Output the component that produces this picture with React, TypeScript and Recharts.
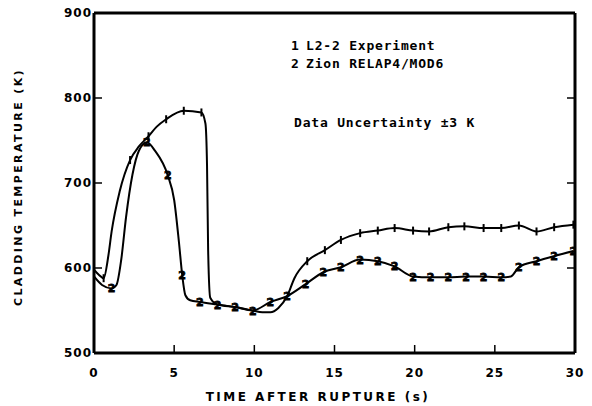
import { ComposedChart, Line, XAxis, YAxis, Customized } from 'recharts';

// time after rupture (s) and cladding temperature (K)
const timeTicks = [0, 5, 10, 15, 20, 25, 30];
const innerTimeTicks = [5, 10, 15, 20, 25];
const tempTicks = [500, 600, 700, 800, 900];
const innerTempTicks = [600, 700, 800];

// curve 1: L2-2 Experiment
const expTime = [0, 0.3, 0.6, 0.9, 1.1, 1.6, 2.25, 2.8, 3.4, 3.9, 4.5, 5.6, 6.7, 6.95, 7.05, 7.12, 7.25, 7.7, 8.8, 9.9, 10.5, 11, 11.5, 12.05, 12.5, 13.3, 14.4, 15.4, 16.6, 17.7, 18.75, 19.9, 20.9, 22.1, 23.1, 24.3, 25.4, 26.5, 27.6, 28.7, 29.9];
const expTemp = [598, 592, 588, 615, 643, 690, 727, 743, 755, 766, 775, 785, 783, 770, 720, 620, 565, 557, 554, 550, 548, 548, 553, 567, 588, 608, 621, 633, 641, 644, 647, 644, 643, 648, 649, 647, 647, 650, 643, 648, 651];
const expMarks = [0.6, 2.25, 3.4, 4.5, 5.6, 6.7, 13.3, 14.4, 15.4, 16.6, 17.7, 18.75, 19.9, 20.9, 22.1, 23.1, 24.3, 25.4, 26.5, 27.6, 28.7, 29.9];

// curve 2: Zion RELAP4/MOD6
const calcTime = [0, 0.5, 1.1, 1.4, 1.7, 2.0, 2.4, 2.8, 3.3, 3.8, 4.6, 5.0, 5.3, 5.5, 5.7, 6.0, 6.6, 7.7, 8.8, 9.9, 11, 12.05, 13.2, 14.3, 15.4, 16.6, 17.7, 18.75, 19.9, 21, 22.1, 23.2, 24.3, 25.4, 26, 26.5, 27.6, 28.7, 29.9];
const calcTemp = [590, 580, 576, 580, 610, 660, 710, 738, 748, 738, 709, 680, 630, 592, 568, 562, 560, 557, 554, 550, 560, 567, 581, 595, 601, 610, 608, 602, 590, 589, 589, 590, 590, 589, 590, 601, 608, 614, 620];
const calcMarks = [1.1, 3.3, 4.6, 5.5, 6.6, 7.7, 8.8, 9.9, 11, 12.05, 13.2, 14.3, 15.4, 16.6, 17.7, 18.75, 19.9, 21, 22.1, 23.2, 24.3, 25.4, 26.5, 27.6, 28.7, 29.9];

const expData = expTime.map((t, i) => ({ t, T: expTemp[i] }));
const calcData = calcTime.map((t, i) => ({ t, T: calcTemp[i] }));

const tickFont = { fontFamily: 'DejaVu Sans', fontWeight: 700, fontSize: 12, fill: '#000', letterSpacing: 1 };
const monoFont = { fontFamily: 'DejaVu Sans Mono', fontWeight: 700, fontSize: 13, fill: '#000', letterSpacing: 0.8 };
const frame = { stroke: '#000', strokeWidth: 3 };
const tickStroke = { stroke: '#000', strokeWidth: 1.5 };

const NoLabel = () => null;

const ExpDot = (props: any) => {
  const { cx, cy, payload, index } = props;
  if (!expMarks.includes(payload.t)) return <g key={`e${index}`} />;
  return <line key={`e${index}`} x1={cx} x2={cx} y1={cy - 4} y2={cy + 4} stroke="#000" strokeWidth={2} />;
};

const CalcDot = (props: any) => {
  const { cx, cy, payload, index } = props;
  if (!calcMarks.includes(payload.t)) return <g key={`c${index}`} />;
  return (
    <text key={`c${index}`} x={cx} y={cy + 4} textAnchor="middle" fontFamily="DejaVu Sans" fontWeight={900} fontSize={11} fill="#000" stroke="#000" strokeWidth={0.8}>
      2
    </text>
  );
};

const Texts = () => (
  <g>
    <text x={291} y={50} {...monoFont}>1</text>
    <text x={306} y={50} {...monoFont}>L2-2 Experiment</text>
    <text x={291} y={68} {...monoFont}>2</text>
    <text x={306} y={68} {...monoFont}>Zion RELAP4/MOD6</text>
    <text x={294} y={127} {...monoFont}>Data Uncertainty ±3 K</text>
    <text x={318} y={401} textAnchor="middle" fontFamily="DejaVu Sans" fontWeight={700} fontSize={12} letterSpacing={2.5} fill="#000">
      TIME AFTER RUPTURE (s)
    </text>
    <text x={22} y={187} transform="rotate(-90 22 187)" textAnchor="middle" fontFamily="DejaVu Sans" fontWeight={700} fontSize={11} letterSpacing={2.4} fill="#000">
      CLADDING TEMPERATURE (K)
    </text>
  </g>
);

export default function App() {
  return (
    <div style={{ position: 'absolute', left: 0, top: 0, background: '#fff' }}>
      <ComposedChart width={592} height={406} margin={{ top: 13, right: 17, bottom: 0, left: 0 }}>
        <XAxis
          dataKey="t"
          type="number"
          domain={[0, 30]}
          ticks={timeTicks}
          height={53}
          axisLine={frame}
          tickLine={tickStroke}
          tickSize={-8}
          tickMargin={23}
          tick={tickFont}
          allowDataOverflow
        />
        <XAxis
          xAxisId="top"
          orientation="top"
          type="number"
          domain={[0, 30]}
          ticks={innerTimeTicks}
          mirror
          tick={NoLabel}
          tickSize={8}
          axisLine={frame}
          tickLine={tickStroke}
          allowDataOverflow
        />
        <YAxis
          type="number"
          domain={[500, 900]}
          ticks={tempTicks}
          width={94}
          axisLine={frame}
          tickLine={tickStroke}
          tickSize={-8}
          tickMargin={10}
          tick={tickFont}
          allowDataOverflow
        />
        <YAxis
          yAxisId="right"
          orientation="right"
          type="number"
          domain={[500, 900]}
          ticks={innerTempTicks}
          mirror
          tick={NoLabel}
          tickSize={8}
          axisLine={frame}
          tickLine={tickStroke}
          allowDataOverflow
        />
        <Line data={expData} dataKey="T" type="monotone" stroke="#000" strokeWidth={2} dot={ExpDot} activeDot={false} isAnimationActive={false} />
        <Line data={calcData} dataKey="T" type="monotone" stroke="#000" strokeWidth={2} dot={CalcDot} activeDot={false} isAnimationActive={false} />
        <Customized component={Texts} />
      </ComposedChart>
    </div>
  );
}
